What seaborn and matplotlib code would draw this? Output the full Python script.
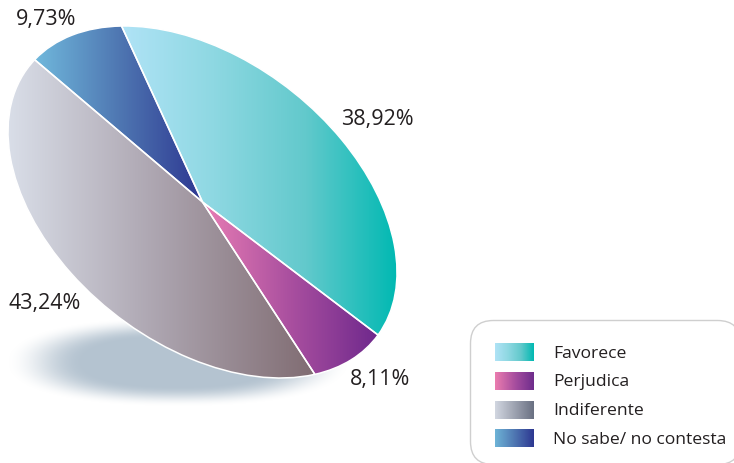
import numpy as np
import matplotlib
matplotlib.use("Agg")
import matplotlib.pyplot as plt
from matplotlib.colors import ListedColormap
from matplotlib.patches import FancyBboxPatch
from matplotlib.transforms import Affine2D
import seaborn as sns

categories = ["Favorece", "Perjudica", "Indiferente", "No sabe/ no contesta"]
values = [38.92, 8.11, 43.24, 9.73]
slice_colors = [("#b0e3f6", "#8ed8e2", "#62c9cc", "#00b9b2"), ("#e87db4", "#a94f9f", "#6e288c"),
                ("#d9dee8", "#aba3ae", "#806c72"), ("#70b8dc", "#4f77b2", "#2d3791")]
swatch_colors = [("#b0e3f6", "#8ed8e2", "#62c9cc", "#00b9b2"), ("#eb7daf", "#a94f9f", "#6e2d8c"),
                 ("#d2d7e1", "#9ea3b1", "#697082"), ("#6eb4d7", "#4f77b2", "#2d3791")]

sns.set_theme(style="white")
plt.rcParams["font.family"] = ["Open Sans", "DejaVu Sans"]
TEXT = "#231f20"

fig = plt.figure(figsize=(7.34, 4.63), dpi=100, facecolor="white")
ax = fig.add_axes([0, 0, 1, 1])


def gradient(stops):
    return ListedColormap(sns.blend_palette(list(stops), n_colors=256))


ramp = np.linspace(0, 1, 256)[None, :]

# soft shadow under the pie
gx, gy = np.meshgrid(np.linspace(0, 360, 360), np.linspace(300, 420, 120))
dist = (np.abs((gx - 178) / 157) ** 2.3 + np.abs((gy - 362) / 41) ** 2.3) ** (1 / 2.3)
shadow = np.zeros(gx.shape + (4,))
shadow[..., :3] = np.array([0xb4, 0xc3, 0xd0]) / 255
fade = np.clip((1.10 - dist) / 0.50, 0, 1)
shadow[..., 3] = fade * fade * (3 - 2 * fade)
ax.imshow(shadow, extent=(0, 360, 420, 300), aspect="auto", zorder=1,
          interpolation="bilinear")

# the pie, as a unit circle sheared into a tilted ellipse
wedges, _ = ax.pie(values, startangle=-114.6, counterclock=True,
                   wedgeprops=dict(facecolor="none", edgecolor="white", linewidth=1.1))
half_w, half_h, corr = 194.5, 176.0, 0.40
tilt = Affine2D.from_values(half_w, half_h * corr, 0,
                            half_h * np.sqrt(1 - corr ** 2), 202.5, 202.0)
for wedge, stops in zip(wedges, slice_colors):
    box = wedge.get_path().get_extents(tilt)
    wedge.set_transform(tilt + ax.transData)
    wedge.set_zorder(3)
    im = ax.imshow(ramp, cmap=gradient(stops), aspect="auto", zorder=2,
                   extent=(box.x0, box.x1, box.y1, box.y0))
    im.set_clip_path(wedge)

# value labels
label_pos = [(377, 120), (380, 380), (45, 304), (46, 20)]
for v, (x, y) in zip(values, label_pos):
    ax.text(x, y, f"{v:.2f}".replace(".", ",") + "%", ha="center", va="center",
            fontsize=15.5, color=TEXT, zorder=5)

# legend box, running off the page
ax.add_patch(FancyBboxPatch((493, 343), 225, 99, boxstyle="round,pad=22.5,rounding_size=23",
                            facecolor="white", edgecolor="#cfcfcf", linewidth=1, zorder=2))
sw_top = [343, 372, 401, 429.5]
text_y = [354, 382, 411, 440]
for name, stops, top, ty in zip(categories, swatch_colors, sw_top, text_y):
    ax.imshow(ramp, cmap=gradient(stops), aspect="auto", zorder=4,
              extent=(495, 534, top + 18, top))
    ax.text(553, ty, name, ha="left", va="center", fontsize=12.6, color=TEXT, zorder=5)

ax.set_aspect("auto")
ax.set_xlim(0, 734)
ax.set_ylim(463, 0)
ax.axis("off")
fig.savefig("out.png", dpi=100, facecolor="white")
